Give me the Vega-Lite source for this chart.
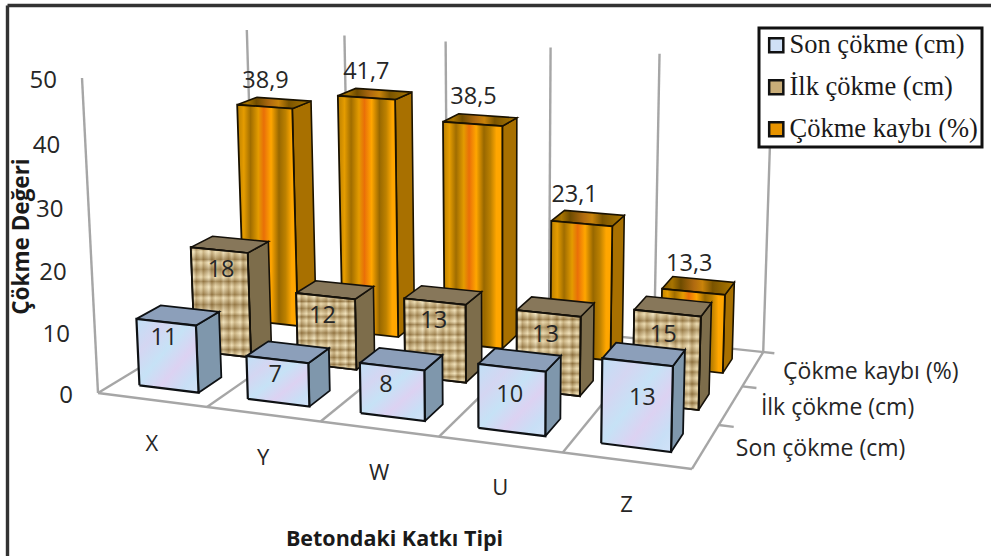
{
  "$schema": "https://vega.github.io/schema/vega-lite/v6.json",
  "width": 984,
  "height": 551,
  "autosize": "none",
  "padding": {"left": 7, "top": 5, "right": 0, "bottom": 0},
  "background": "#ffffff",
  "view": {"stroke": null},
  "config": {"text": {"font": "Open Sans", "fontSize": 23.5, "color": "#262626"}},
  "datasets": {
    "olcumler": [
      {"katki": "X", "seri": "Çökme kaybı (%)", "deger": 38.9},
      {"katki": "Y", "seri": "Çökme kaybı (%)", "deger": 41.7},
      {"katki": "W", "seri": "Çökme kaybı (%)", "deger": 38.5},
      {"katki": "U", "seri": "Çökme kaybı (%)", "deger": 23.1},
      {"katki": "Z", "seri": "Çökme kaybı (%)", "deger": 13.3},
      {"katki": "X", "seri": "İlk çökme (cm)", "deger": 18},
      {"katki": "Y", "seri": "İlk çökme (cm)", "deger": 12},
      {"katki": "W", "seri": "İlk çökme (cm)", "deger": 13},
      {"katki": "U", "seri": "İlk çökme (cm)", "deger": 13},
      {"katki": "Z", "seri": "İlk çökme (cm)", "deger": 15},
      {"katki": "X", "seri": "Son çökme (cm)", "deger": 11},
      {"katki": "Y", "seri": "Son çökme (cm)", "deger": 7},
      {"katki": "W", "seri": "Son çökme (cm)", "deger": 8},
      {"katki": "U", "seri": "Son çökme (cm)", "deger": 10},
      {"katki": "Z", "seri": "Son çökme (cm)", "deger": 13}
    ],
    "eksen_cizgileri": [
      {"cizgi": "on", "k": 0, "d": 0, "v": 0}, {"cizgi": "on", "k": 5, "d": 0, "v": 0},
      {"cizgi": "arka", "k": 0, "d": 3, "v": 0}, {"cizgi": "arka", "k": 5.1, "d": 3, "v": 0},
      {"cizgi": "t0", "k": 0, "d": 0, "v": 0}, {"cizgi": "t0", "k": 0, "d": 3, "v": 0},
      {"cizgi": "t1", "k": 1, "d": 0, "v": 0}, {"cizgi": "t1", "k": 1, "d": 3, "v": 0},
      {"cizgi": "t2", "k": 2, "d": 0, "v": 0}, {"cizgi": "t2", "k": 2, "d": 3, "v": 0},
      {"cizgi": "t3", "k": 3, "d": 0, "v": 0}, {"cizgi": "t3", "k": 3, "d": 3, "v": 0},
      {"cizgi": "t4", "k": 4, "d": 0, "v": 0}, {"cizgi": "t4", "k": 4, "d": 3, "v": 0},
      {"cizgi": "t5", "k": 5, "d": 0, "v": 0}, {"cizgi": "t5", "k": 5, "d": 3, "v": 0},
      {"cizgi": "c1", "k": 5, "d": 1, "v": 0}, {"cizgi": "c1", "k": 5.12, "d": 1, "v": 0},
      {"cizgi": "c2", "k": 5, "d": 2, "v": 0}, {"cizgi": "c2", "k": 5.12, "d": 2, "v": 0},
      {"cizgi": "sol", "k": 0, "d": 0, "v": 0}, {"cizgi": "sol", "k": 0, "d": 0, "v": 50},
      {"cizgi": "d0", "k": 0, "d": 3, "v": 0}, {"cizgi": "d0", "k": 0, "d": 3, "v": 50},
      {"cizgi": "d1", "k": 1, "d": 3, "v": 0}, {"cizgi": "d1", "k": 1, "d": 3, "v": 50},
      {"cizgi": "d2", "k": 2, "d": 3, "v": 0}, {"cizgi": "d2", "k": 2, "d": 3, "v": 50},
      {"cizgi": "d3", "k": 3, "d": 3, "v": 0}, {"cizgi": "d3", "k": 3, "d": 3, "v": 50},
      {"cizgi": "d4", "k": 4, "d": 3, "v": 0}, {"cizgi": "d4", "k": 4, "d": 3, "v": 50},
      {"cizgi": "d5", "k": 5, "d": 3, "v": 0}, {"cizgi": "d5", "k": 5, "d": 3, "v": 50}
    ],
    "deger_eksen": [
      {"deger": 0}, {"deger": 10}, {"deger": 20}, {"deger": 30}, {"deger": 40}, {"deger": 50}
    ]
  },
  "encoding": {
    "x": {
      "field": "sx", "type": "quantitative",
      "scale": {"domain": [7, 991], "nice": false, "zero": false},
      "axis": {
        "orient": "top", "domain": true, "domainColor": "#333333", "domainWidth": 3.4,
        "ticks": false, "labels": false, "grid": false,
        "title": "Betondaki Katkı Tipi", "titleFont": "Open Sans", "titleFontSize": 21.5, "titleFontWeight": "bold",
        "titleColor": "#1a1a1a", "titleX": 387, "titleY": 534, "titleBaseline": "middle", "titleAlign": "center"
      }
    },
    "y": {
      "field": "sy", "type": "quantitative",
      "scale": {"domain": [556, 5], "nice": false, "zero": false},
      "axis": {
        "orient": "left", "domain": true, "domainColor": "#333333", "domainWidth": 3.4,
        "ticks": false, "labels": false, "grid": false,
        "title": "Çökme Değeri", "titleFont": "Open Sans", "titleFontSize": 22.5, "titleFontWeight": "bold",
        "titleColor": "#1a1a1a", "titleX": 14, "titleY": 231, "titleAngle": -90, "titleBaseline": "middle", "titleAlign": "center"
      }
    }
  },
  "layer": [
    {
      "data": {"name": "eksen_cizgileri"},
      "transform": [
        {"calculate": "datum.k/5", "as": "u"},
        {"calculate": "datum.d/3", "as": "w"},
        {"calculate": "datum.v/50", "as": "h"},
        {"calculate": "(524.1*datum.u+203.7*datum.w-19.1*datum.h+98)/(1-0.101*datum.u+0.183*datum.w-0.038*datum.h)", "as": "sx"},
        {"calculate": "(28.6*datum.u-40.7*datum.w-318*datum.h+393)/(1-0.101*datum.u+0.183*datum.w-0.038*datum.h)", "as": "sy"}
      ],
      "mark": {"type": "line", "stroke": "#a6a6a6", "strokeWidth": 2.4},
      "encoding": {"detail": {"field": "cizgi"}, "order": {"field": "v"}}
    },
    {
      "data": {"name": "olcumler"},
      "transform": [
        {"calculate": "indexof(['X','Y','W','U','Z'], datum.katki)", "as": "i"},
        {"calculate": "indexof(['Son çökme (cm)','İlk çökme (cm)','Çökme kaybı (%)'], datum.seri)", "as": "s"},
        {"calculate": "datum.i/5+0.045", "as": "u0"},
        {"calculate": "datum.i/5+0.155", "as": "u1"},
        {"calculate": "(datum.s+0.5)/3-0.07", "as": "w0"},
        {"calculate": "(datum.s+0.5)/3+0.07", "as": "w1"},
        {"calculate": "datum.deger/50", "as": "H"},
        {"calculate": "['on','sag','ust']", "as": "yuz"},
        {"flatten": ["yuz"]},
        {"calculate": "[0,1,2,3,4]", "as": "kose"},
        {"flatten": ["kose"]},
        {"calculate": "datum.yuz==='sag' ? datum.u1 : [datum.u0,datum.u1,datum.u1,datum.u0,datum.u0][datum.kose]", "as": "u"},
        {"calculate": "datum.yuz==='on' ? datum.w0 : datum.yuz==='sag' ? [datum.w0,datum.w1,datum.w1,datum.w0,datum.w0][datum.kose] : [datum.w0,datum.w0,datum.w1,datum.w1,datum.w0][datum.kose]", "as": "w"},
        {"calculate": "datum.yuz==='ust' ? datum.H : [0,0,datum.H,datum.H,0][datum.kose]", "as": "h"},
        {"calculate": "(524.1*datum.u+203.7*datum.w-19.1*datum.h+98)/(1-0.101*datum.u+0.183*datum.w-0.038*datum.h)", "as": "sx"},
        {"calculate": "(28.6*datum.u-40.7*datum.w-318*datum.h+393)/(1-0.101*datum.u+0.183*datum.w-0.038*datum.h)", "as": "sy"}
      ],
      "encoding": {"detail": {"field": "katki"}, "order": {"field": "kose"}},
      "layer": [
        {
          "transform": [{"filter": "datum.s===2 && datum.yuz==='sag'"}],
          "mark": {"type": "line", "fill": "#a87000", "stroke": "#1a1200", "strokeWidth": 1.6}
        },
        {
          "transform": [{"filter": "datum.s===2 && datum.yuz==='ust'"}],
          "mark": {"type": "line", "stroke": "#1a1200", "strokeWidth": 1.6, "fill": {
            "gradient": "linear", "x1": 0, "y1": 0, "x2": 1, "y2": 0,
            "stops": [
              {"offset": 0, "color": "#7d5500"}, {"offset": 0.14, "color": "#a87400"}, {"offset": 0.26, "color": "#6f4c00"},
              {"offset": 0.44, "color": "#b06a10"}, {"offset": 0.56, "color": "#c9830a"}, {"offset": 0.7, "color": "#7a5400"},
              {"offset": 1, "color": "#b07a00"}
            ]
          }}
        },
        {
          "transform": [{"filter": "datum.s===2 && datum.yuz==='on'"}],
          "mark": {"type": "line", "stroke": "#1a1200", "strokeWidth": 1.8, "fill": {
            "gradient": "linear", "x1": 0, "y1": 0, "x2": 1, "y2": 0,
            "stops": [
              {"offset": 0, "color": "#b97f00"}, {"offset": 0.11, "color": "#e59c00"}, {"offset": 0.22, "color": "#a06d00"},
              {"offset": 0.35, "color": "#e49b00"}, {"offset": 0.44, "color": "#e96f08"}, {"offset": 0.56, "color": "#ffa600"},
              {"offset": 0.69, "color": "#986800"}, {"offset": 0.8, "color": "#bd8100"}, {"offset": 0.9, "color": "#ffa600"},
              {"offset": 1, "color": "#ffa600"}
            ]
          }}
        },
        {
          "transform": [{"filter": "datum.s===1 && datum.yuz==='sag'"}],
          "mark": {"type": "line", "fill": "#7d6d4b", "stroke": "#15110a", "strokeWidth": 1.6}
        },
        {
          "transform": [{"filter": "datum.s===1 && datum.yuz==='ust'"}],
          "mark": {"type": "line", "fill": "#87775a", "stroke": "#15110a", "strokeWidth": 1.6}
        },
        {
          "transform": [{"filter": "datum.s===1 && datum.yuz==='on'"}],
          "mark": {"type": "line", "stroke": "#15110a", "strokeWidth": 1.8, "fill": {
            "gradient": "linear", "x1": 0, "y1": 0, "x2": 1, "y2": 0,
            "stops": [
              {"offset": 0, "color": "#d0b47c"}, {"offset": 0.05, "color": "#efe0b8"}, {"offset": 0.09, "color": "#a98b55"},
              {"offset": 0.17, "color": "#e6d3a4"}, {"offset": 0.21, "color": "#b3965f"}, {"offset": 0.3, "color": "#f0e2bc"},
              {"offset": 0.35, "color": "#a68852"}, {"offset": 0.41, "color": "#e3cf9f"}, {"offset": 0.5, "color": "#b89c66"},
              {"offset": 0.54, "color": "#eddcb2"}, {"offset": 0.63, "color": "#a98b55"}, {"offset": 0.68, "color": "#e8d6a8"},
              {"offset": 0.73, "color": "#b4975f"}, {"offset": 0.82, "color": "#ecdbb0"}, {"offset": 0.87, "color": "#a58750"},
              {"offset": 0.94, "color": "#e4d1a2"}, {"offset": 1, "color": "#bfa36e"}
            ]
          }}
        },
        {
          "transform": [{"filter": "datum.s===1 && datum.yuz==='on'"}],
          "mark": {"type": "line", "stroke": "#15110a", "strokeWidth": 1.8, "fill": {
            "gradient": "linear", "x1": 0, "y1": 0, "x2": 0, "y2": 1,
            "stops": [
              {"offset": 0, "color": "rgba(110,80,35,0.4)"}, {"offset": 0.04, "color": "rgba(255,245,215,0.35)"},
              {"offset": 0.11, "color": "rgba(110,80,35,0.45)"}, {"offset": 0.14, "color": "rgba(255,245,215,0.3)"},
              {"offset": 0.2, "color": "rgba(110,80,35,0.4)"}, {"offset": 0.27, "color": "rgba(255,245,215,0.35)"},
              {"offset": 0.31, "color": "rgba(110,80,35,0.45)"}, {"offset": 0.36, "color": "rgba(255,245,215,0.3)"},
              {"offset": 0.43, "color": "rgba(110,80,35,0.4)"}, {"offset": 0.46, "color": "rgba(255,245,215,0.35)"},
              {"offset": 0.52, "color": "rgba(110,80,35,0.45)"}, {"offset": 0.59, "color": "rgba(255,245,215,0.3)"},
              {"offset": 0.62, "color": "rgba(110,80,35,0.4)"}, {"offset": 0.68, "color": "rgba(255,245,215,0.35)"},
              {"offset": 0.74, "color": "rgba(110,80,35,0.45)"}, {"offset": 0.78, "color": "rgba(255,245,215,0.3)"},
              {"offset": 0.84, "color": "rgba(110,80,35,0.4)"}, {"offset": 0.89, "color": "rgba(255,245,215,0.35)"},
              {"offset": 0.93, "color": "rgba(110,80,35,0.45)"}, {"offset": 0.97, "color": "rgba(255,245,215,0.3)"},
              {"offset": 1, "color": "rgba(110,80,35,0.4)"}
            ]
          }}
        },
        {
          "transform": [{"filter": "datum.s===0 && datum.yuz==='sag'"}],
          "mark": {"type": "line", "fill": "#7f97ac", "stroke": "#0e1114", "strokeWidth": 1.8}
        },
        {
          "transform": [{"filter": "datum.s===0 && datum.yuz==='ust'"}],
          "mark": {"type": "line", "fill": "#8c9fba", "stroke": "#0e1114", "strokeWidth": 1.8}
        },
        {
          "transform": [{"filter": "datum.s===0 && datum.yuz==='on'"}],
          "mark": {"type": "line", "stroke": "#0e1114", "strokeWidth": 2.2, "fill": {
            "gradient": "linear", "x1": 0, "y1": 0, "x2": 1, "y2": 1,
            "stops": [
              {"offset": 0, "color": "#c0e0f6"}, {"offset": 0.25, "color": "#d4d6f2"}, {"offset": 0.45, "color": "#c6e2f6"},
              {"offset": 0.65, "color": "#dcd2f2"}, {"offset": 0.85, "color": "#c8dff6"}, {"offset": 1, "color": "#d2e2f8"}
            ]
          }}
        }
      ]
    },
    {
      "data": {"name": "olcumler"},
      "transform": [
        {"calculate": "indexof(['X','Y','W','U','Z'], datum.katki)", "as": "i"},
        {"calculate": "indexof(['Son çökme (cm)','İlk çökme (cm)','Çökme kaybı (%)'], datum.seri)", "as": "s"},
        {"calculate": "(datum.i+0.5)/5", "as": "u"},
        {"calculate": "(datum.s+0.5)/3-0.07", "as": "w"},
        {"calculate": "datum.deger/50", "as": "h"},
        {"calculate": "(524.1*datum.u+203.7*datum.w-19.1*datum.h+98)/(1-0.101*datum.u+0.183*datum.w-0.038*datum.h)+[-2,-2,-6,-2,5,2,-3,-1,-3,-4,1,0,1,-7,-4][datum.s*5+datum.i]", "as": "sx"},
        {"calculate": "(28.6*datum.u-40.7*datum.w-318*datum.h+393)/(1-0.101*datum.u+0.183*datum.w-0.038*datum.h)+[1,0,3,12,21,5,5,4,7,7,2,2,1,-1,0][datum.s*5+datum.i]", "as": "sy"},
        {"calculate": "replace(toString(datum.deger),'.',',')", "as": "etiket"}
      ],
      "layer": [
        {
          "mark": {"type": "square", "size": 0},
          "encoding": {
            "fill": {
              "field": "seri", "type": "nominal",
              "scale": {
                "domain": ["Son çökme (cm)", "İlk çökme (cm)", "Çökme kaybı (%)"],
                "range": ["#cfe0f6", "#c9ad78", "#e89400"]
              },
              "legend": {
                "orient": "none", "legendX": 752, "legendY": 23, "title": null,
                "fillColor": "#ffffff", "strokeColor": "#111111",
                "padding": 4, "rowPadding": 15, "symbolType": "square", "symbolSize": 200,
                "symbolStrokeColor": "#111111", "symbolStrokeWidth": 2.5, "symbolOpacity": 1,
                "labelFont": "Liberation Serif", "labelFontSize": 26.5, "labelColor": "#1a1a1a", "labelLimit": 300, "labelOffset": 0,
                "encode": {"legend": {"update": {"strokeWidth": {"value": 3}}}}
              }
            }
          }
        },
        {
          "transform": [{"filter": "datum.s<2"}],
          "mark": {"type": "text", "dy": 15, "baseline": "middle"},
          "encoding": {"text": {"field": "etiket"}}
        },
        {
          "transform": [{"filter": "datum.s===2"}],
          "mark": {"type": "text", "dy": -28, "baseline": "middle"},
          "encoding": {"text": {"field": "etiket"}}
        }
      ]
    },
    {
      "data": {"name": "olcumler"},
      "transform": [
        {"filter": "datum.seri==='Son çökme (cm)'"},
        {"calculate": "(indexof(['X','Y','W','U','Z'], datum.katki)+0.5)/5", "as": "u"},
        {"calculate": "0", "as": "w"},
        {"calculate": "0", "as": "h"},
        {"calculate": "(524.1*datum.u+203.7*datum.w-19.1*datum.h+98)/(1-0.101*datum.u+0.183*datum.w-0.038*datum.h)", "as": "sx"},
        {"calculate": "(28.6*datum.u-40.7*datum.w-318*datum.h+393)/(1-0.101*datum.u+0.183*datum.w-0.038*datum.h)", "as": "sy"}
      ],
      "mark": {"type": "text", "dy": 44, "baseline": "middle", "fontSize": 22},
      "encoding": {"text": {"field": "katki"}}
    },
    {
      "data": {"name": "olcumler"},
      "transform": [
        {"filter": "datum.katki==='Z'"},
        {"calculate": "1", "as": "u"},
        {"calculate": "(indexof(['Son çökme (cm)','İlk çökme (cm)','Çökme kaybı (%)'], datum.seri)+0.5)/3", "as": "w"},
        {"calculate": "0", "as": "h"},
        {"calculate": "(524.1*datum.u+203.7*datum.w-19.1*datum.h+98)/(1-0.101*datum.u+0.183*datum.w-0.038*datum.h)", "as": "sx"},
        {"calculate": "(28.6*datum.u-40.7*datum.w-318*datum.h+393)/(1-0.101*datum.u+0.183*datum.w-0.038*datum.h)", "as": "sy"}
      ],
      "mark": {"type": "text", "align": "left", "dx": 30, "dy": 3, "baseline": "middle", "fontSize": 23},
      "encoding": {"text": {"field": "seri"}}
    },
    {
      "data": {"name": "deger_eksen"},
      "transform": [
        {"calculate": "0", "as": "u"},
        {"calculate": "0", "as": "w"},
        {"calculate": "datum.deger/50", "as": "h"},
        {"calculate": "(524.1*datum.u+203.7*datum.w-19.1*datum.h+98)/(1-0.101*datum.u+0.183*datum.w-0.038*datum.h)", "as": "sx"},
        {"calculate": "(28.6*datum.u-40.7*datum.w-318*datum.h+393)/(1-0.101*datum.u+0.183*datum.w-0.038*datum.h)", "as": "sy"}
      ],
      "mark": {"type": "text", "align": "right", "dx": -25, "dy": 3, "baseline": "middle", "fontSize": 24},
      "encoding": {"text": {"field": "deger", "type": "quantitative"}}
    }
  ]
}
